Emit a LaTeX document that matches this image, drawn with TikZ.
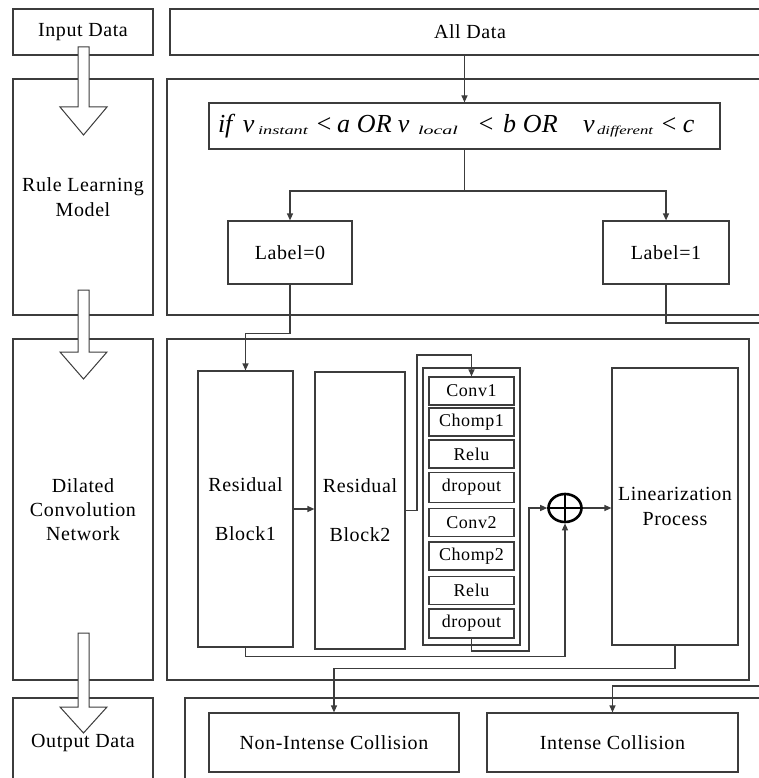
\documentclass[tikz,border=0pt]{standalone}
\usepackage{fontspec}
\setmainfont{Liberation Serif}[LetterSpace=3]
\newfontfamily\fml{Liberation Serif}
\usetikzlibrary{arrows.meta,shapes.geometric,calc}
\definecolor{lc}{RGB}{60,60,60}
\newcommand\fpc[2]{\makebox[#1pt][l]{#2}}
\newcommand\fsub[2]{\raisebox{-2pt}{\resizebox{#1pt}{\height}{\fontsize{12}{12}\selectfont #2}}}
\begin{document}
\begin{tikzpicture}[x=1pt,y=-1pt,
  box/.style={draw=lc, line width=1.2pt, inner sep=0pt, align=center, font=\fontsize{20}{25}\selectfont},
  sbox/.style={box, minimum width=85pt, minimum height=28pt, font=\fontsize{18}{20}\selectfont},
  txt/.style={inner sep=0pt, align=center, font=\fontsize{20}{25}\selectfont},
  arr/.style={draw=lc, line width=1.2pt, -{Triangle[length=7pt,width=6pt]}},
  ln/.style={draw=lc, line width=1.2pt},
  hollow/.style={draw=lc, fill=white, line width=1pt}]
\useasboundingbox (0,0) rectangle (758,778);
% left column
\node[box, minimum width=140pt, minimum height=46pt] (inL) at (83,32) {Input Data};
\node[box, minimum width=140pt, minimum height=236pt] (ruleL) at (83,197) {Rule Learning\\Model};
\node[box, minimum width=140pt, minimum height=341pt, font=\fontsize{20}{24}\selectfont] (dilL) at (83,509.5) {Dilated\\Convolution\\Network};
\node[box, minimum width=140pt, minimum height=102pt] (outL) at (83,749) {};
\node[txt] (outLt) at (83,743) {Output Data};
% right column
\node[box, minimum width=600pt, minimum height=46pt] (allbox) at (470,32) {All Data};
\node[box, minimum width=603pt, minimum height=236pt] (ruleR) at (468.5,197) {};
\node[box, minimum width=582pt, minimum height=341pt] (dilR) at (458,509.5) {};
\node[box, minimum width=585pt, minimum height=102pt] (outR) at (477.5,749) {};
% rule model
\node[box, minimum width=511pt, minimum height=46pt, font=\fml\itshape\fontsize{26}{28}\selectfont] (formula) at (464.5,126)
 {\makebox[493pt][l]{\fpc{25}{if}\fpc{15}{v}\fpc{57}{\fsub{50}{instant}}\fpc{22}{<}\fpc{20}{a}\fpc{41}{OR}\fpc{20}{v}\fpc{59}{\fsub{40}{local}}\fpc{26}{<}\fpc{20}{b}\fpc{60}{OR}\fpc{14}{v}\fpc{63}{\fsub{56}{different}}\fpc{23}{<}\fpc{15}{c}}};
\node[box, minimum width=124pt, minimum height=63pt] (lab0) at (290,252.5) {Label=0};
\node[box, minimum width=126pt, minimum height=63pt] (lab1) at (666,252.5) {Label=1};
% dilated convolution
\node[box, minimum width=95pt, minimum height=276pt] (rb1) at (245.5,509) {Residual\\[24pt]Block1};
\node[box, minimum width=90pt, minimum height=277pt] (rb2) at (360,510.5) {Residual\\[24pt]Block2};
\node[box, minimum width=97pt, minimum height=277pt] (cbox) at (471.5,506.5) {};
\node[sbox] (c1) at (471.5,391) {Conv1};
\node[sbox] (ch1) at (471.5,422) {Chomp1};
\node[sbox] (r1) at (471.5,454) {Relu};
\node[sbox, minimum height=30pt] (d1) at (471.5,487.5) {dropout};
\node[sbox] (c2) at (471.5,522.5) {Conv2};
\node[sbox] (ch2) at (471.5,556) {Chomp2};
\node[sbox] (r2) at (471.5,590.5) {Relu};
\node[sbox, minimum height=29pt] (d2) at (471.5,623.5) {dropout};
\node[draw=black, ellipse, line width=2.6pt, minimum width=33pt, minimum height=28pt, inner sep=0pt] (oplus) at (565,508) {};
\draw[black, line width=2.2pt] (oplus.north) -- (oplus.south) (oplus.west) -- (oplus.east);
\node[box, minimum width=126pt, minimum height=277pt] (lin) at (675,506.5) {Linearization\\Process};
% outputs
\node[box, minimum width=250pt, minimum height=59pt] (nonint) at (334,742.5) {Non-Intense Collision};
\node[box, minimum width=251pt, minimum height=59pt] (intense) at (612.5,742.5) {Intense Collision};
% connectors
\coordinate (sp) at (464.5,191);
\coordinate (lab1out) at (770,323);
\coordinate (lab1in) at (770,686);
\coordinate (k1) at (417,355);
\coordinate (k2) at (529,651);
\draw[arr] (formula.north |- allbox.south) -- (formula.north);
\draw[ln] (formula.south) -- (sp);
\draw[arr] (sp) -| (lab0.north);
\draw[arr] (sp) -| (lab1.north);
\draw[arr] (lab0.south) -- ++(0,49) -| (rb1.north);
\draw[ln] (lab1.south) |- (lab1out);
\draw[arr] (rb1.east) -- (rb1.east -| rb2.west);
\draw[arr] (rb2.east) -| (k1) -| (c1.north);
\draw[arr] (d2.south) |- (k2) |- (oplus.west);
\draw[arr] (rb1.south) -- ++(0,9) -| (oplus.south);
\draw[arr] (oplus.east) -- (oplus.east -| lin.west);
\draw[arr] (lin.south) -- ++(0,23) -| (nonint.north);
\draw[arr] (lab1in) -| (intense.north);
% hollow arrows
\draw[hollow] (78,47) -- (78,107) -- (60,107) -- (83.5,135) -- (107,107) -- (89,107) -- (89,47) -- cycle;
\draw[hollow] (78,290) -- (78,352) -- (60,352) -- (83.5,379) -- (107,352) -- (89,352) -- (89,290) -- cycle;
\draw[hollow] (78,633) -- (78,707) -- (60,707) -- (83.5,733) -- (107,707) -- (89,707) -- (89,633) -- cycle;
\end{tikzpicture}
\end{document}
